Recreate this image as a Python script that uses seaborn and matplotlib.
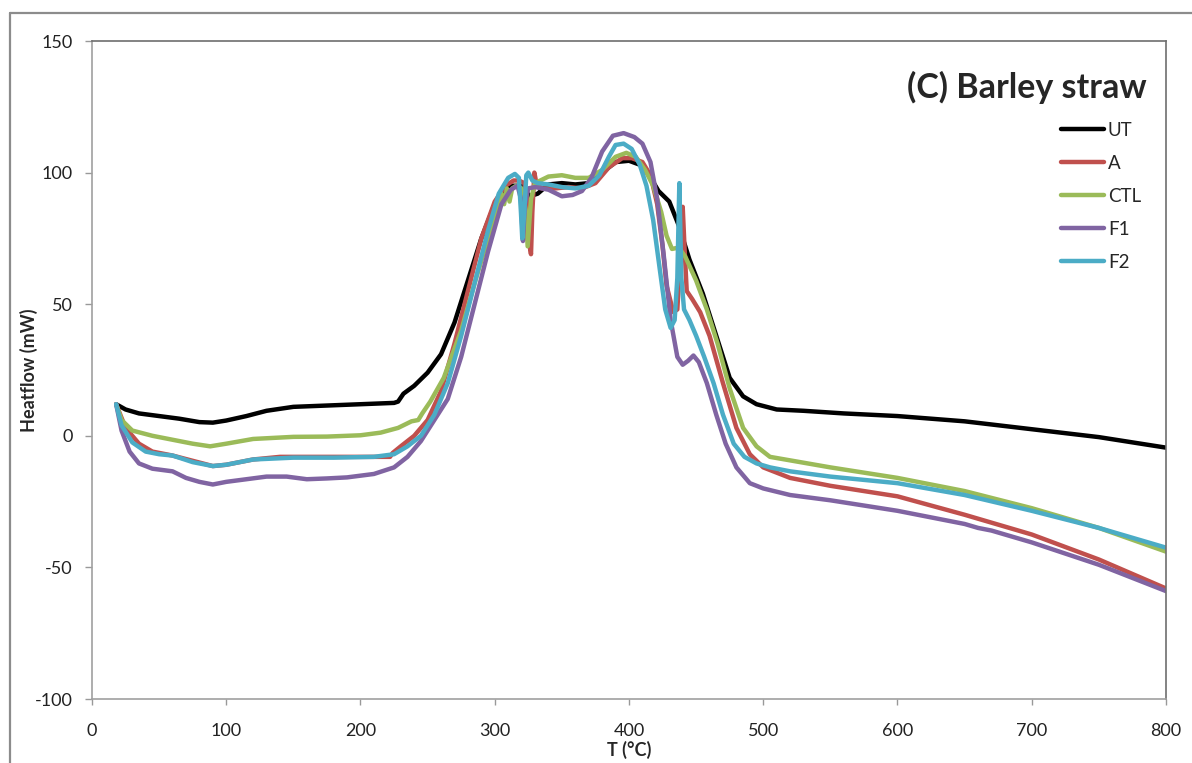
import numpy as np
import pandas as pd
import matplotlib
matplotlib.use("Agg")
import matplotlib.pyplot as plt
from matplotlib.lines import Line2D
import seaborn as sns

# series (T in degC, heatflow in mW)
t_ut = [18, 25, 35, 50, 65, 80, 90, 100, 115, 130, 150, 175, 200, 225, 228, 232, 240, 250, 260, 270,
        280, 290, 300, 310, 320, 326, 332, 340, 350, 360, 370, 380, 390, 400, 408, 415, 422, 430, 437,
        445, 455, 465, 475, 485, 495, 510, 530, 560, 600, 650, 700, 750, 800]
hf_ut = [12, 10, 8.5, 7.5, 6.5, 5.2, 5, 5.8, 7.5, 9.5, 11, 11.5, 12, 12.5, 13, 16, 19, 24, 31, 43,
         59, 75, 88, 95, 95, 91, 92, 95.5, 96, 95.5, 96, 100, 104, 104.5, 103, 99, 93, 89, 80,
         67, 54, 38, 22, 15, 12, 10, 9.5, 8.5, 7.5, 5.5, 2.5, -0.5, -4.5]

t_a = [18, 25, 35, 45, 60, 75, 90, 100, 120, 140, 170, 200, 222, 224, 230, 240, 250, 260, 270, 280,
       290, 300, 308, 314, 318, 322, 324, 326, 327, 328, 329.5, 331, 335, 345, 355, 365, 375, 385, 395,
       402, 410, 416, 421, 425, 428, 433, 436, 438.5, 440, 441.5, 443, 447, 453, 460, 470, 480, 490,
       500, 520, 550, 600, 650, 700, 750, 800]
hf_a = [12, 3, -3, -6, -7.5, -9.5, -11.5, -11, -9, -8, -8, -8, -8, -6.5, -4, 0, 6, 17, 35, 55,
        75, 89, 95, 97, 97, 96, 90, 72, 69, 85, 100, 96, 94, 94, 94.5, 94, 96, 102, 105.5,
        105.5, 104, 99, 88, 72, 57, 47, 48, 70, 87, 70, 55, 52, 47, 38, 20, 3, -7,
        -12, -16, -19, -23, -30, -37.5, -47, -58]

t_ctl = [18, 22, 30, 45, 60, 75, 88, 100, 120, 150, 175, 200, 215, 228, 238, 243, 246, 252, 262, 275,
         285, 295, 300, 303, 305, 307, 309, 311, 313, 316, 320, 323, 324.5, 327, 330, 340, 350, 360,
         370, 380, 390, 398, 405, 412, 418, 424, 428, 432, 437, 442, 450, 458, 466, 475, 485, 495,
         505, 550, 600, 650, 700, 750, 800]
hf_ctl = [12, 6, 2, 0, -1.5, -3, -4, -3, -1.2, -0.4, -0.3, 0.2, 1.2, 3, 5.5, 6, 8.5, 13, 22, 40,
          58, 75, 84, 88, 92, 88, 94, 89, 94, 95, 94, 86, 72, 90, 96, 98.5, 99, 98,
          98, 101, 106, 107.5, 106, 101, 95, 85, 76, 71, 71.5, 68, 59, 48, 35, 18, 3, -4,
          -8, -12, -16, -21, -27.5, -35, -44]

t_f1 = [18, 22, 28, 35, 45, 60, 70, 80, 90, 100, 115, 130, 145, 160, 175, 190, 210, 225, 235, 245,
        255, 265, 275, 285, 295, 305, 312, 317, 319.5, 321, 322.5, 325, 330, 340, 350, 358, 365, 372,
        380, 388, 396, 404, 410, 416, 421, 426, 431, 436, 440, 444, 448, 452, 458, 465, 472, 480, 490,
        500, 520, 550, 600, 650, 660, 670, 700, 750, 800]
hf_f1 = [12, 2, -6, -10.5, -12.5, -13.5, -16, -17.5, -18.5, -17.5, -16.5, -15.5, -15.5, -16.5, -16.2,
         -15.8, -14.5, -12, -8, -2, 6, 14, 30, 50, 70, 88, 93.5, 95, 90, 74, 88, 94, 94.5, 93.5, 91,
         91.5, 93, 98, 108, 114, 115, 113.5, 111, 104, 90, 68, 44, 30, 27, 28.5, 30.5, 28, 20, 8,
         -3, -12, -18, -20, -22.5, -24.5, -28.5, -33.5, -35, -36, -40.5, -49, -59]

t_f2 = [18, 22, 30, 40, 50, 60, 75, 90, 100, 120, 150, 180, 210, 225, 235, 245, 255, 265, 275, 285,
        295, 303, 310, 315, 318, 319.5, 320.5, 322, 323.5, 325, 328, 332, 340, 350, 360, 370, 378,
        385, 390, 396, 402, 408, 413, 418, 423, 427, 431, 434, 436, 437.5, 439, 441, 445, 450, 456,
        463, 470, 478, 486, 495, 505, 520, 550, 600, 650, 700, 750, 800]
hf_f2 = [12, 4, -2.5, -6, -7, -7.5, -10, -11.5, -11, -9, -8.3, -8.3, -8, -7, -4, 0, 8, 20, 38, 58,
         78, 92, 98, 99.5, 98, 85, 75, 85, 99, 100, 97, 96, 95.5, 94.5, 94, 95, 99,
         106, 110.5, 111, 109, 103, 95, 82, 63, 48, 41, 44, 60, 96, 60, 48, 44, 38, 30,
         20, 8, -3, -8, -10.5, -12, -13.5, -15.5, -18, -22.5, -28.5, -35, -42.5]

samples = ["UT", "A", "CTL", "F1", "F2"]
colors = ["#000000", "#C0504D", "#9BBB59", "#8064A2", "#4BACC6"]
x_ticks = [0, 100, 200, 300, 400, 500, 600, 700, 800]
y_ticks = [-100, -50, 0, 50, 100, 150]

series = {"UT": (t_ut, hf_ut), "A": (t_a, hf_a), "CTL": (t_ctl, hf_ctl),
          "F1": (t_f1, hf_f1), "F2": (t_f2, hf_f2)}
df = pd.concat(
    [pd.DataFrame({"T": t, "Heatflow": hf, "Sample": name}) for name, (t, hf) in series.items()],
    ignore_index=True,
)

sns.set_theme(style="white")
plt.rcParams["font.family"] = ["Lato", "DejaVu Sans"]
plt.rcParams["axes.unicode_minus"] = False

fig = plt.figure(figsize=(11.92, 7.63), dpi=100)
ax = fig.add_axes([92 / 1192, 1 - 699 / 763, 1074 / 1192, 658 / 763])

sns.lineplot(data=df, x="T", y="Heatflow", hue="Sample", hue_order=samples,
             palette=dict(zip(samples, colors)), estimator=None, sort=False,
             linewidth=3.2, ax=ax)

ax.set_xlim(0, 800)
ax.set_ylim(-100, 150)
ax.set_xticks(x_ticks)
ax.set_yticks(y_ticks)
ax.tick_params(axis="x", direction="out", length=4.5, width=1, color="#999999",
               pad=13, labelsize=13, labelcolor="#222222", bottom=True)
ax.tick_params(axis="y", direction="out", length=5, width=1, color="#999999",
               pad=9, labelsize=13, labelcolor="#222222", left=True)

for side in ["left", "bottom"]:
    ax.spines[side].set_color("#a0a0a0")
    ax.spines[side].set_linewidth(1.2)
for side in ["top", "right"]:
    ax.spines[side].set_color("#6e6e6e")
    ax.spines[side].set_linewidth(1.2)

ax.set_xlabel("T (°C)", fontsize=13, fontweight="bold", va="top")
ax.xaxis.set_label_coords(0.5, -0.063)
ax.set_ylabel("Heatflow (mW)", fontsize=13, fontweight="bold", va="center")
ax.yaxis.set_label_coords((29 - 92) / 1074, 0.5)

handles, labels = ax.get_legend_handles_labels()
ax.legend(handles, labels, loc="upper left", bbox_to_anchor=(1061 / 1192, 1 - 122 / 763),
          bbox_transform=fig.transFigure, frameon=False, fontsize=13.5,
          handlelength=2.3, handletextpad=0.2, labelspacing=0.85, borderpad=0,
          borderaxespad=0)

fig.text(1147 / 1192, 1 - 87 / 763, "(C) Barley straw", fontsize=24.5, fontweight="bold",
         ha="right", va="center")

# outer chart frame
fig.add_artist(Line2D([9.5 / 1192, 9.5 / 1192], [0, 1 - 13 / 763], color="#8c8c8c", lw=1.6))
fig.add_artist(Line2D([9.5 / 1192, 1], [1 - 13 / 763, 1 - 13 / 763], color="#8c8c8c", lw=1.6))

fig.savefig("out.png", dpi=100)
